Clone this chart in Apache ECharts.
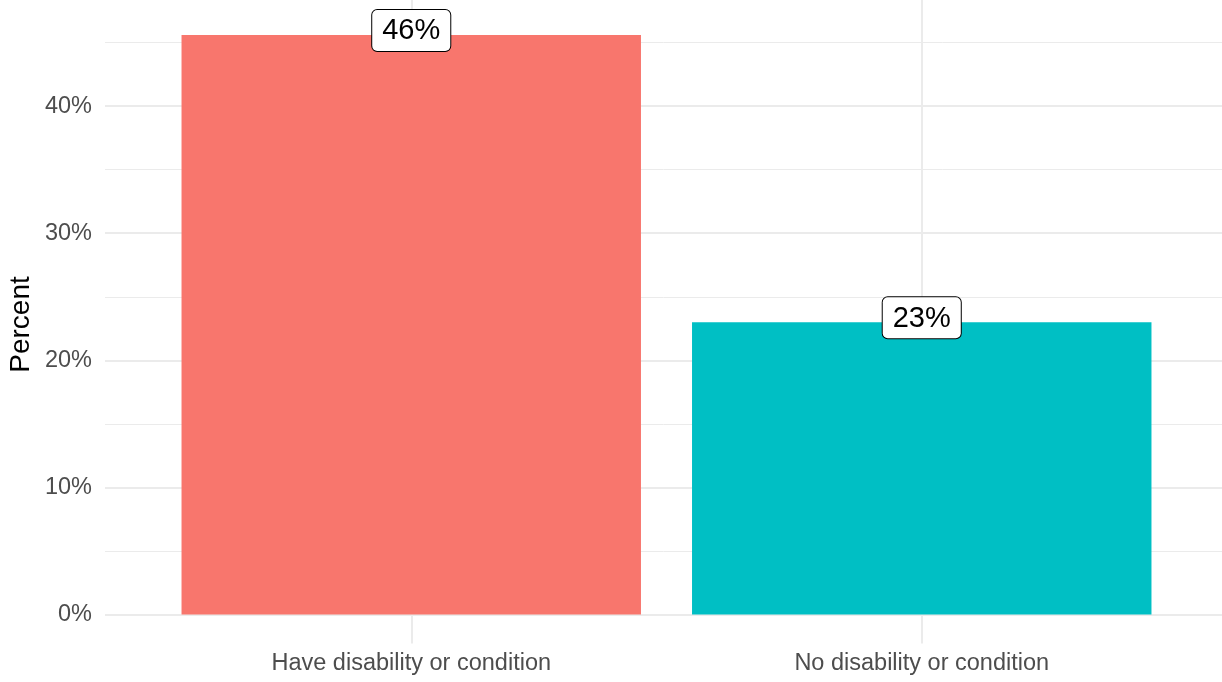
<!DOCTYPE html>
<html>
<head>
<meta charset="utf-8">
<script src="https://cdn.jsdelivr.net/npm/echarts@6/dist/echarts.min.js"></script>
<style>
  html, body { margin: 0; padding: 0; background: #fff; }
  #chart { width: 1222px; height: 682px; }
</style>
</head>
<body>
<div id="chart"></div>
<script>
var categories = ['Have disability or condition', 'No disability or condition'];
var percents = [45.6, 23.0];
var barColors = ['#F8766D', '#00BFC4'];
var yTitle = 'Percent';

var FONT = '"Liberation Sans", Arial, sans-serif';
var chart = echarts.init(document.getElementById('chart'));

var option = {
  animation: false,
  textStyle: { fontFamily: FONT },
  grid: [
    // background panel: horizontal grid lines + y labels
    { left: 105, right: 0, top: -21, bottom: 67.5, outerBoundsMode: 'none', containLabel: false },
    // bars + category axis
    { left: 156, right: 45, top: -21, bottom: 67.5, outerBoundsMode: 'none', containLabel: false },
    // full panel height, only for the axis title
    { left: 105, right: 0, top: 6, bottom: 39, outerBoundsMode: 'none', containLabel: false }
  ],
  xAxis: [
    { gridIndex: 0, type: 'value', show: false },
    {
      gridIndex: 1,
      type: 'category',
      data: categories,
      axisLine: { show: false },
      axisTick: { show: true, alignWithLabel: true, length: 29, lineStyle: { color: '#ebebeb', width: 2 } },
      splitLine: { show: true, alignWithLabel: true, lineStyle: { color: '#ebebeb', width: 2 } },
      axisLabel: { color: '#4d4d4d', fontSize: 23.5, fontFamily: FONT, margin: 37 }
    },
    { gridIndex: 2, type: 'value', show: false }
  ],
  yAxis: [
    {
      gridIndex: 0,
      type: 'value',
      min: 0,
      max: 50,
      interval: 10,
      axisLine: { show: false },
      axisTick: { show: false },
      axisLabel: { color: '#4d4d4d', fontSize: 23.5, fontFamily: FONT, margin: 13, formatter: '{value}%' },
      splitLine: { lineStyle: { color: '#ebebeb', width: 2 } },
      minorTick: { show: false, splitNumber: 2 },
      minorSplitLine: { show: true, lineStyle: { color: '#ebebeb', width: 1 } }
    },
    {
      gridIndex: 1,
      type: 'value',
      min: 0,
      max: 50,
      interval: 10,
      show: false,
      splitLine: { show: false }
    },
    {
      gridIndex: 2,
      type: 'value',
      axisLine: { show: false },
      axisTick: { show: false },
      axisLabel: { show: false },
      splitLine: { show: false },
      name: yTitle,
      nameLocation: 'middle',
      nameRotate: 90,
      nameGap: 70,
      nameTextStyle: { color: '#000', fontSize: 28, fontFamily: FONT }
    }
  ],
  series: [
    {
      type: 'bar',
      xAxisIndex: 1,
      yAxisIndex: 1,
      barWidth: '90%',
      data: percents.map(function (v, i) {
        return { value: v, itemStyle: { color: barColors[i] } };
      }),
      label: {
        show: true,
        position: 'top',
        distance: -16,
        formatter: function (p) { return Math.round(p.value) + '%'; },
        color: '#000',
        fontSize: 29,
        lineHeight: 29,
        fontFamily: FONT,
        backgroundColor: '#fff',
        borderColor: '#000',
        borderWidth: 1,
        borderRadius: 5,
        padding: [7, 10, 5, 10]
      }
    }
  ]
};

chart.setOption(option);
</script>
</body>
</html>
